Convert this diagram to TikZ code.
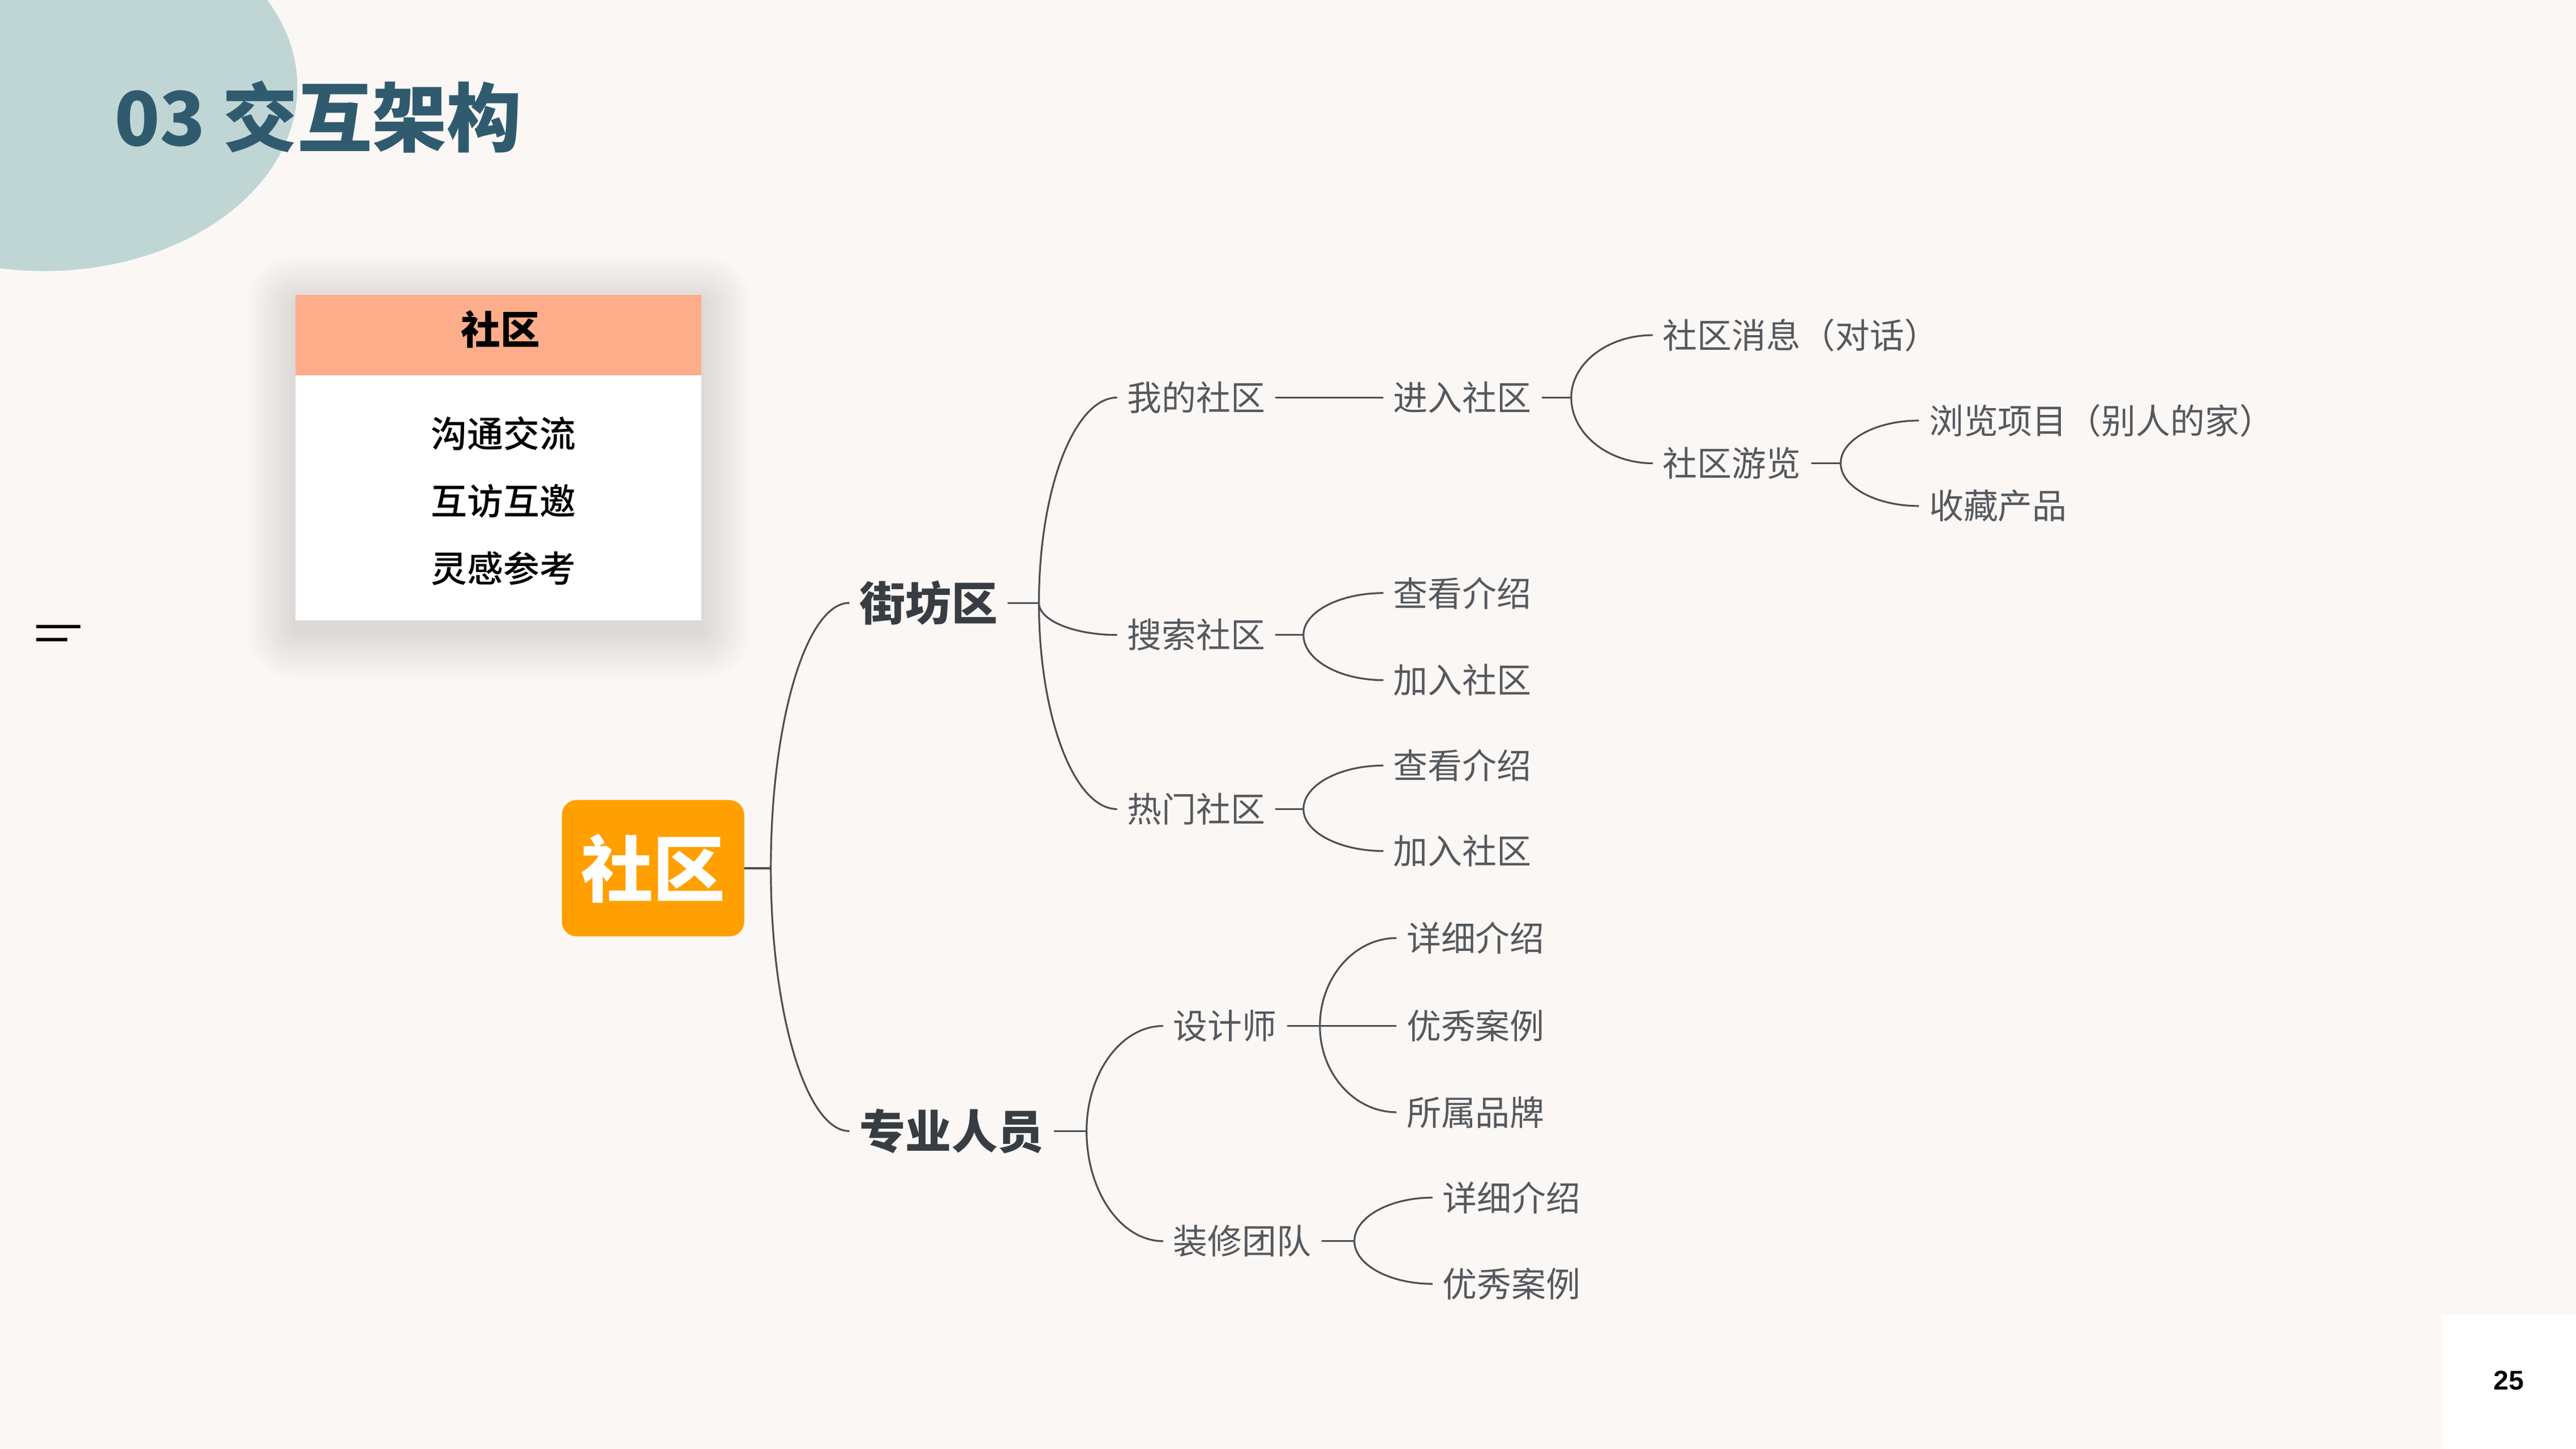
\documentclass[tikz,border=0pt]{standalone}
\usepackage{fontspec}
\newfontfamily\cjk{Noto Sans CJK SC}
\newfontfamily\cjkmed{Noto Sans CJK SC Medium}
\newfontfamily\arial{Liberation Sans}
\usetikzlibrary{calc,positioning}

\definecolor{paper}{HTML}{FAF7F4}
\definecolor{blob}{HTML}{BFD6D5}
\definecolor{titleblue}{HTML}{305B6F}
\definecolor{salmon}{HTML}{FDAD8A}
\definecolor{rootorange}{HTML}{FFA000}
\definecolor{branchgray}{HTML}{4B5056}
\definecolor{maingray}{HTML}{383D43}
\definecolor{subgray}{HTML}{55595E}

\tikzset{
  conn/.style={draw=branchgray, line width=1.1pt},
  curve/.style={to path={.. controls ($(\tikztostart)!0.55!(\tikztostart|-\tikztotarget)$) and ($(\tikztotarget)!0.55!(\tikztostart|-\tikztotarget)$) .. (\tikztotarget)}},
  topic/.style={anchor=west, inner xsep=6pt, inner ysep=0pt, text=subgray, font=\cjk\fontsize{21pt}{24pt}\selectfont},
  topicone/.style={topic, text=maingray, font=\cjk\bfseries\fontsize{28pt}{32pt}\selectfont},
  rootbox/.style={fill=rootorange, rounded corners=9pt, minimum width=111pt, minimum height=83pt, inner sep=0pt, text=white, font=\cjk\bfseries\fontsize{44pt}{48pt}\selectfont},
  cardbox/.style={fill=white, minimum width=247pt, minimum height=198pt, inner sep=0pt},
  headbox/.style={fill=salmon, minimum width=247pt, minimum height=49pt, inner sep=0pt},
  cardtext/.style={inner sep=0pt, text=black, font=\cjkmed\fontsize{22pt}{26pt}\selectfont},
}

\begin{document}
\begin{tikzpicture}[x=1pt,y=-1pt]
  \useasboundingbox (0,0) rectangle (1568,882);
  \clip (0,0) rectangle (1568,882);
  \fill[paper] (0,0) rectangle (1568,882);
  \fill[blob] (27,53) ellipse [x radius=154pt, y radius=112pt];

  % title and small marks
  \node[anchor=west, inner sep=0pt, text=titleblue, font=\cjk\bfseries\fontsize{45.5pt}{50pt}\selectfont] (title) at (69.5,71) {03 交互架构};
  \draw[black, line width=2.2pt] (22,381.5) -- (49,381.5) (22,389.3) -- (41,389.3);
  \node[fill=white, anchor=north west, minimum width=82pt, minimum height=82pt, inner sep=0pt] (pagebox) at (1486,800) {};
  \node[inner sep=0pt, font=\arial\bfseries\fontsize{16.5pt}{18pt}\selectfont] (pnum) at (1527,840.5) {25};

  % card with soft shadow
  \coordinate (card_nw) at (180,179.5);
  \coordinate (card_se) at (427,377.5);
  \foreach \r in {2,4,...,30}
    \fill[black, opacity=0.0075, rounded corners=\r pt] ($(card_nw)+(-\r,-\r+6)$) rectangle ($(card_se)+(\r,\r+6)$);
  \node[cardbox] (card) at (303.5,278.5) {};
  \node[headbox, below=0pt of card.north] (head) {};
  \node[cardtext, font=\cjk\bfseries\fontsize{24pt}{28pt}\selectfont] (head_t) at (304.7,200.5) {社区};
  \node[cardtext] (c_1) at (306.5,264) {沟通交流};
  \node[cardtext] (c_2) at (306.5,305) {互访互邀};
  \node[cardtext] (c_3) at (306.5,346) {灵感参考};

  % mind map
  \node[rootbox] (root) at (397.5,528.5) {社区};
  \node[topicone] (jf) at (517,367) {街坊区};
  \node[topicone] (zy) at (517,688.5) {专业人员};

  \node[topic] (my) at (680,242) {我的社区};
  \node[topic] (jr) at (842,242) {进入社区};
  \node[topic] (xx) at (1006,204) {社区消息（对话）};
  \node[topic] (yl) at (1006,282) {社区游览};
  \node[topic] (ll) at (1168,256) {浏览项目（别人的家）};
  \node[topic] (sc) at (1168,308) {收藏产品};

  \node[topic] (ss) at (680,386.5) {搜索社区};
  \node[topic] (ss_1) at (842,361) {查看介绍};
  \node[topic] (ss_2) at (842,414) {加入社区};

  \node[topic] (rm) at (680,492.5) {热门社区};
  \node[topic] (rm_1) at (842,466) {查看介绍};
  \node[topic] (rm_2) at (842,518) {加入社区};

  \node[topic] (sj) at (708,624.5) {设计师};
  \node[topic] (sj_1) at (850,571) {详细介绍};
  \node[topic] (sj_2) at (850,624.5) {优秀案例};
  \node[topic] (sj_3) at (850,677) {所属品牌};

  \node[topic] (zx) at (708,755.5) {装修团队};
  \node[topic] (zx_1) at (872,729) {详细介绍};
  \node[topic] (zx_2) at (872,781.5) {优秀案例};

  \coordinate[right=16pt of root] (root_j);
  \coordinate[right=19pt of jf] (jf_j);
  \coordinate[right=20pt of zy] (zy_j);
  \coordinate[right=18pt of jr] (jr_j);
  \coordinate[right=18pt of yl] (yl_j);
  \coordinate[right=17pt of ss] (ss_j);
  \coordinate[right=17pt of rm] (rm_j);
  \coordinate[right=20pt of sj] (sj_j);
  \coordinate[right=20pt of zx] (zx_j);

  \path[conn]
    (root.east) edge (root_j)
    (root_j) edge[curve] (jf.west) edge[curve] (zy.west)
    (jf.east) edge (jf_j)
    (jf_j) edge[curve] (my.west) edge[curve] (ss.west) edge[curve] (rm.west)
    (my.east) edge (jr.west)
    (jr.east) edge (jr_j)
    (jr_j) edge[curve] (xx.west) edge[curve] (yl.west)
    (yl.east) edge (yl_j)
    (yl_j) edge[curve] (ll.west) edge[curve] (sc.west)
    (ss.east) edge (ss_j)
    (ss_j) edge[curve] (ss_1.west) edge[curve] (ss_2.west)
    (rm.east) edge (rm_j)
    (rm_j) edge[curve] (rm_1.west) edge[curve] (rm_2.west)
    (zy.east) edge (zy_j)
    (zy_j) edge[curve] (sj.west) edge[curve] (zx.west)
    (sj.east) edge (sj_j)
    (sj_j) edge[curve] (sj_1.west) edge (sj_2.west) edge[curve] (sj_3.west)
    (zx.east) edge (zx_j)
    (zx_j) edge[curve] (zx_1.west) edge[curve] (zx_2.west);
\end{tikzpicture}
\end{document}
